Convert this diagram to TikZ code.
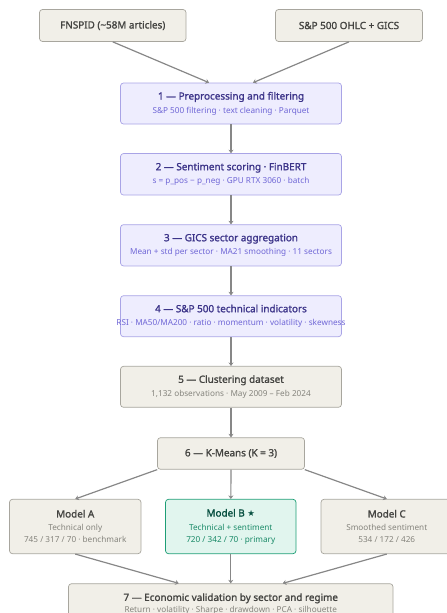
\documentclass[tikz,border=0pt]{standalone}
\usepackage{fontspec}
\setmainfont{Noto Sans}
\newfontfamily\ttlfont[FakeBold=1.4]{Noto Sans}
\newfontfamily\symfont{DejaVu Sans}
\usetikzlibrary{arrows.meta,calc}
\definecolor{bgfill}{HTML}{F1EFE8}
\definecolor{bgdraw}{HTML}{A8A69E}
\definecolor{bgtitle}{HTML}{444441}
\definecolor{bgsub}{HTML}{85847D}
\definecolor{pufill}{HTML}{EEEDFE}
\definecolor{pudraw}{HTML}{A9A4E6}
\definecolor{putitle}{HTML}{3C3489}
\definecolor{pusub}{HTML}{6F66D6}
\definecolor{grfill}{HTML}{E1F5EE}
\definecolor{grdraw}{HTML}{1D9E75}
\definecolor{grtitle}{HTML}{085041}
\definecolor{grsub}{HTML}{1A8A68}
\definecolor{arr}{HTML}{878787}
\tikzset{
  base/.style={rounded corners=3pt, line width=0.7pt, align=center, inner sep=0pt},
  beige/.style={base, fill=bgfill, draw=bgdraw, text=bgtitle},
  purple/.style={base, fill=pufill, draw=pudraw, text=putitle},
  green/.style={base, fill=grfill, draw=grdraw, text=grtitle},
  conn/.style={draw=arr, line width=1.2pt, -{Stealth[length=3.5pt,width=5pt]}},
}
\newcommand{\ttl}[1]{{\ttlfont\fontsize{9.9}{11}\selectfont #1}}
\newcommand{\sbt}[2]{{\fontsize{8.2}{12}\selectfont\color{#1}#2}}
\begin{document}
\begin{tikzpicture}[x=1pt,y=-1pt]
\useasboundingbox (0,0) rectangle (447,613);
\clip (0,0) rectangle (447,613);
\node[beige, minimum width=146.5pt, minimum height=32pt] (fn) at (112.75,25.5) {\ttl{FNSPID (\textasciitilde58M articles)}};
\node[beige, minimum width=147pt, minimum height=32pt] (sp) at (349,25.5) {\ttl{S\&P 500 OHLC + GICS}};
\node[purple, minimum width=221pt, minimum height=41pt] (b1) at (231,103.5) {\ttl{1 — Preprocessing and filtering}\\[1.5pt]\sbt{pusub}{S\&P 500 filtering · text cleaning · Parquet}};
\node[purple, minimum width=221pt, minimum height=41.5pt] (b2) at (231,174.3) {\ttl{2 — Sentiment scoring · FinBERT}\\[1.5pt]\sbt{pusub}{s = p\_pos − p\_neg · GPU RTX 3060 · batch}};
\node[purple, minimum width=221pt, minimum height=41.3pt] (b3) at (231,245.3) {\ttl{3 — GICS sector aggregation}\\[1.5pt]\sbt{pusub}{Mean + std per sector · MA21 smoothing · 11 sectors}};
\node[purple, minimum width=221pt, minimum height=41pt] (b4) at (231,316.2) {\ttl{4 — S\&P 500 technical indicators}\\[1.5pt]\makebox[0pt][c]{\sbt{pusub}{RSI · MA50/MA200 · ratio · momentum · volatility · skewness}}};
\node[beige, minimum width=221pt, minimum height=41pt] (b5) at (231,386.8) {\ttl{5 — Clustering dataset}\\[1.5pt]\sbt{bgsub}{1,132 observations · May 2009 – Feb 2024}};
\node[beige, minimum width=147pt, minimum height=31.6pt] (b6) at (231,453.5) {\ttl{6 — K-Means (K = 3)}};
\node[beige, minimum width=131.5pt, minimum height=54.4pt] (ma) at (75.25,526.5) {\ttl{Model A}\\[1.5pt]\sbt{bgsub}{Technical only}\\\sbt{bgsub}{745 / 317 / 70 · benchmark}};
\node[green, minimum width=130.5pt, minimum height=54.4pt] (mb) at (230.75,526.5) {\ttl{Model B {\symfont\fontsize{8.5}{10}\selectfont ★}}\\[1.5pt]\sbt{grsub}{Technical + sentiment}\\\sbt{grsub}{720 / 342 / 70 · primary}};
\node[beige, minimum width=131.5pt, minimum height=54.4pt] (mc) at (386.75,526.5) {\ttl{Model C}\\[1.5pt]\sbt{bgsub}{Smoothed sentiment}\\\sbt{bgsub}{534 / 172 / 426}};
\node[beige, minimum width=324.5pt, minimum height=40pt] (b7) at (230.75,603.7) {\ttl{7 — Economic validation by sector and regime}\\[-0.8pt]\sbt{bgsub}{Return · volatility · Sharpe · drawdown · PCA · silhouette}};
\draw[conn] (fn.south) -- ($(b1.north)+(-22,0)$);
\draw[conn] (sp.south) -- ($(b1.north)+(22,0)$);
\draw[conn] (b1) -- (b2);
\draw[conn] (b2) -- (b3);
\draw[conn] (b3) -- (b4);
\draw[conn] (b4) -- (b5);
\draw[conn] (b5) -- (b6);
\draw[conn] (b6.south west) -- (ma.north);
\draw[conn] (b6) -- (mb);
\draw[conn] (b6.south east) -- (mc.north);
\draw[conn] (ma.south) -- ($(b7.north)+(-52,0)$);
\draw[conn] (mb) -- (b7);
\draw[conn] (mc.south) -- ($(b7.north)+(52,0)$);
\end{tikzpicture}
\end{document}
